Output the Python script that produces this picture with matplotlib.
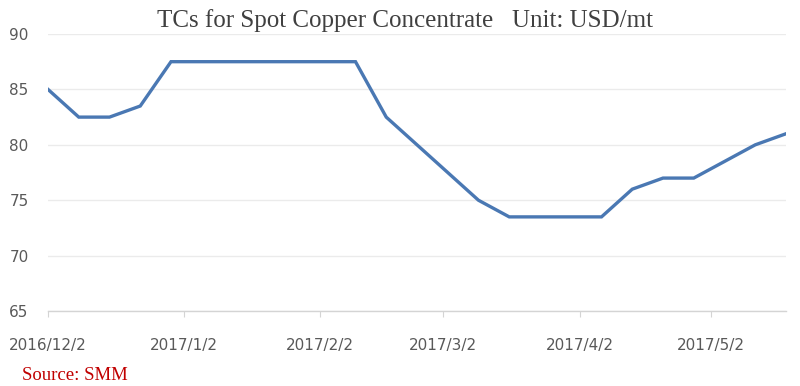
import datetime as dt
import matplotlib
matplotlib.use('Agg')
import matplotlib.pyplot as plt
import matplotlib.dates as mdates

# Weekly TCs readings (Fridays)
start = dt.date(2016, 12, 2)
dates = [start + dt.timedelta(days=7 * i) for i in range(25)]
tcs = [85, 82.5, 82.5, 83.5, 87.5, 87.5, 87.5, 87.5, 87.5, 87.5, 87.5,
       82.5, 80, 77.5, 75, 73.5, 73.5, 73.5, 73.5, 76, 77, 77, 78.5, 80, 81]

tick_dates = [dt.date(2016, 12, 2), dt.date(2017, 1, 2), dt.date(2017, 2, 2),
              dt.date(2017, 3, 2), dt.date(2017, 4, 2), dt.date(2017, 5, 2)]
tick_labels = ['2016/12/2', '2017/1/2', '2017/2/2', '2017/3/2', '2017/4/2', '2017/5/2']

fig = plt.figure(figsize=(8, 3.86), dpi=100)
ax = fig.add_axes([0.06, 0.194, 0.9225, 0.718])

ax.plot(dates, tcs, color='#4a78b3', linewidth=2.4, solid_joinstyle='miter')

ax.set_xlim(dates[0], dates[-1])
ax.set_ylim(65, 90)
ax.set_yticks([65, 70, 75, 80, 85, 90])
ax.set_xticks(tick_dates)
ax.set_xticklabels(tick_labels)

ax.grid(axis='y', color='#ebebeb', linewidth=1)
ax.set_axisbelow(True)
for s in ['top', 'right', 'left']:
    ax.spines[s].set_visible(False)
ax.spines['bottom'].set_color('#d4d4d4')
ax.spines['bottom'].set_linewidth(1)

ax.tick_params(axis='y', length=0, pad=14, labelsize=11, labelcolor='#595959')
ax.tick_params(axis='x', length=4, color='#d4d4d4', pad=15, labelsize=11, labelcolor='#595959')

fig.text(0.506, 0.947, 'TCs for Spot Copper Concentrate   Unit: USD/mt',
         ha='center', va='center', family='Liberation Serif', fontsize=18, color='#404040')
fig.text(0.027, 0.028, 'Source: SMM', ha='left', va='center',
         family='Liberation Serif', fontsize=13.5, color='#c00000')

fig.savefig('out.png', dpi=100, facecolor='white')
